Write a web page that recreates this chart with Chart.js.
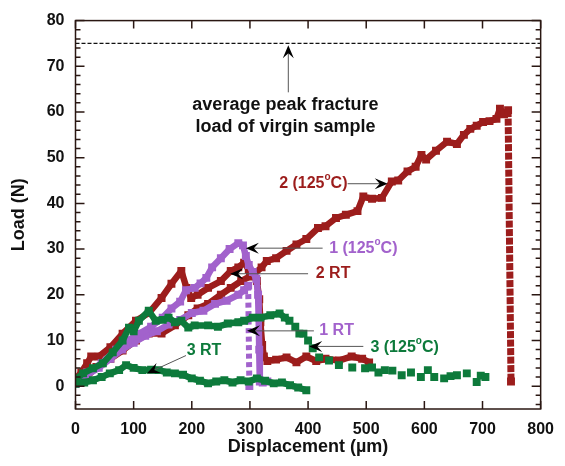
<!DOCTYPE html>
<html lang="en">
<head>
  <meta charset="UTF-8" />
  <title>Load vs Displacement</title>
  <script src="https://cdn.jsdelivr.net/npm/chart.js"></script>
  <style>
    body { margin: 0; background: #fff; }
    canvas { display: block; }
  </style>
</head>
<body>
<canvas id="loadChart" width="565" height="466"></canvas>
<script>
// ---- data (displacement in um, load in N) ----
const hot2X = [0, 15, 36, 60, 81, 104, 126, 148, 171, 194, 210, 228, 250, 267, 285, 300, 307, 320, 329, 345, 363, 380, 397, 417, 430, 448, 465, 485, 495, 510, 527, 544, 555, 571, 585, 595, 603, 620, 639, 656, 668, 679, 690, 701, 712, 724, 730, 737, 744, 749];
const hot2Y = [0.5, 1.5, 4.2, 6, 7.8, 10, 11.5, 11.5, 13.3, 15.5, 17, 18, 20, 21.5, 23, 24, 24.5, 26, 27.4, 28, 29.6, 31, 32.2, 34.6, 35, 36.8, 37.5, 38.3, 41.5, 41, 41.2, 44.8, 45, 47, 48, 50.6, 49.6, 51.5, 53.5, 53, 55, 56.3, 57, 57.8, 58, 58.5, 60.7, 59.5, 60.4, 1];

const rt2X = [0, 10, 20, 27, 40, 60, 81, 104, 126, 148, 165, 182, 191, 199, 210, 228, 250, 267, 280, 290, 298, 305, 312, 316, 318, 321, 324, 330, 345, 363, 380, 397, 414, 430, 453, 475, 493, 505];
const rt2Y = [1.5, 3, 5, 6.5, 6.5, 8.5, 11.5, 14.3, 16, 19.3, 22.4, 25.2, 21.5, 19.3, 20, 21.5, 23, 25.2, 26, 27, 25.5, 24.5, 23, 19, 14, 9, 6.5, 5.5, 5.8, 6.3, 5.2, 6.5, 5.5, 6, 5.6, 6.5, 6, 5.2];

const hot1X = [0, 20, 45, 70, 90, 110, 130, 150, 165, 180, 190, 205, 215, 225, 235, 250, 265, 280, 288, 293, 298, 305, 311, 314, 315, 316, 317, 322, 330];
const hot1Y = [1, 3, 5, 8, 10, 11.5, 13, 15, 17, 18.5, 21, 21.5, 22.5, 23.7, 26, 28, 30, 31.3, 30.8, 28.5, 26.5, 25, 23.5, 20, 15, 8, 1, 0.8, 1];

const rt1X = [0, 20, 40, 60, 80, 100, 120, 140, 160, 180, 200, 220, 240, 260, 280, 290, 297, 299];
const rt1Y = [0.5, 2.5, 4, 6, 8, 9.5, 11, 12, 13.5, 14.5, 16, 16.5, 18, 18.7, 20, 21, 22, 0];

const hot3X = [0, 13, 30, 47, 64, 81, 92, 100, 109, 126, 138, 150, 160, 171, 182, 194, 205, 228, 245, 262, 280, 290, 305, 318, 335, 351, 360, 368, 378, 385, 392, 400, 408, 419, 436, 453, 476, 498, 510, 521, 532, 545, 561, 577, 594, 606, 617, 634, 645, 656, 673, 690, 697, 705];
const hot3Y = [1.5, 2.8, 3.9, 5, 7.4, 10, 12.8, 12, 14.3, 16.5, 14.3, 14.5, 15, 14, 14.3, 12.8, 13.3, 13.3, 13, 13.7, 14, 14.3, 15, 15, 15.5, 15.9, 15, 14.3, 13, 11.5, 11.5, 10, 8.3, 6.3, 5.6, 4.6, 4.1, 3.9, 4.1, 3, 3.5, 3.4, 2.4, 3, 2, 3.5, 2, 1.7, 2.2, 2.4, 2.8, 0.9, 2.3, 2];

const rt3X = [0, 15, 30, 45, 59, 75, 87, 100, 115, 130, 143, 157, 171, 185, 200, 214, 228, 242, 256, 270, 284, 298, 312, 326, 341, 355, 369, 383, 397];
const rt3Y = [0.5, 0.8, 1.3, 2, 2.8, 3.5, 4.6, 4, 3.5, 3.6, 3.5, 3, 2.8, 2.5, 1.7, 1.2, 0.6, 1, 1.3, 0.8, 1.3, 1, 1.7, 1.2, 0.6, 0.8, 0.2, -0.3, -0.9];

const xTicks = [0, 100, 200, 300, 400, 500, 600, 700, 800];
const yTicks = [0, 10, 20, 30, 40, 50, 60, 70, 80];
const virginPeak = 75;

const RED = '#9c1d1c', PURPLE = '#a262cc', GREEN = '#0d7a3b';
const FONT = "'Liberation Sans', Arial, sans-serif";

function pts(xs, ys) { return xs.map((x, i) => ({ x: x, y: ys[i] })); }

function series(xs, ys, color, segment) {
  return {
    data: pts(xs, ys), showLine: true, borderColor: color, backgroundColor: color,
    borderWidth: 6.5, pointStyle: 'rect', pointRadius: 5.6, pointBorderWidth: 0,
    borderCapStyle: 'butt', borderJoinStyle: 'bevel', tension: 0, segment: segment || {}
  };
}

// text with a superscript "o" for the degree sign
function labelText(ctx, before, sup, after, cx, cy, color) {
  ctx.save();
  ctx.fillStyle = color;
  ctx.textBaseline = 'middle';
  ctx.textAlign = 'left';
  const big = 'bold 16px ' + FONT, small = 'bold 10px ' + FONT;
  ctx.font = big; const w1 = ctx.measureText(before).width; const w3 = ctx.measureText(after).width;
  ctx.font = small; const w2 = sup ? ctx.measureText(sup).width : 0;
  let x = cx - (w1 + w2 + w3) / 2;
  ctx.font = big; ctx.fillText(before, x, cy); x += w1;
  if (sup) { ctx.font = small; ctx.fillText(sup, x, cy - 6); x += w2; }
  ctx.font = big; ctx.fillText(after, x, cy);
  ctx.restore();
}

function arrow(ctx, x1, y1, x2, y2) {
  const a = Math.atan2(y2 - y1, x2 - x1);
  ctx.save();
  ctx.strokeStyle = '#555'; ctx.lineWidth = 1;
  ctx.beginPath(); ctx.moveTo(x1, y1); ctx.lineTo(x2 - 6 * Math.cos(a), y2 - 6 * Math.sin(a)); ctx.stroke();
  ctx.translate(x2, y2); ctx.rotate(a);
  ctx.fillStyle = '#000';
  ctx.beginPath(); ctx.moveTo(0, 0); ctx.lineTo(-13, -5.5); ctx.lineTo(-8, 0); ctx.lineTo(-13, 5.5); ctx.closePath(); ctx.fill();
  ctx.restore();
}

const decorations = {
  id: 'decorations',
  beforeDatasetsDraw(chart) {
    const { ctx, chartArea: a, scales: { y } } = chart;
    const py = y.getPixelForValue(virginPeak);
    ctx.save();
    ctx.strokeStyle = '#111'; ctx.lineWidth = 1.3; ctx.setLineDash([4, 2]);
    ctx.beginPath(); ctx.moveTo(a.left, py); ctx.lineTo(a.right, py); ctx.stroke();
    ctx.restore();
  },
  afterDatasetsDraw(chart) {
    const { ctx, chartArea: a, scales: { x, y } } = chart;
    const P = (xv, yv) => [x.getPixelForValue(xv), y.getPixelForValue(yv)];
    ctx.save();
    // frame and inward ticks
    ctx.strokeStyle = '#2a1712'; ctx.lineWidth = 1.5;
    ctx.strokeRect(a.left, a.top, a.right - a.left, a.bottom - a.top);
    ctx.beginPath();
    xTicks.forEach(v => {
      const px = x.getPixelForValue(v);
      ctx.moveTo(px, a.bottom); ctx.lineTo(px, a.bottom - 8);
      ctx.moveTo(px, a.top); ctx.lineTo(px, a.top + 8);
    });
    for (let v = -4; v <= 80; v += 2) {
      const py = y.getPixelForValue(v);
      const len = v % 10 === 0 ? 9 : 5;
      ctx.moveTo(a.left, py); ctx.lineTo(a.left + len, py);
      ctx.moveTo(a.right, py); ctx.lineTo(a.right - len, py);
    }
    ctx.stroke();

    // axis titles
    ctx.fillStyle = '#111';
    ctx.font = 'bold 18px ' + FONT;
    ctx.textAlign = 'center'; ctx.textBaseline = 'middle';
    ctx.fillText('Displacement (\u00b5m)', (a.left + a.right) / 2, 447);
    ctx.save();
    ctx.translate(19, (a.top + a.bottom) / 2);
    ctx.rotate(-Math.PI / 2);
    ctx.fillText('Load (N)', 0, 0);
    ctx.restore();

    // peak annotation
    let p = P(366, 64.3), q = P(366, 74.6);
    arrow(ctx, p[0], p[1], q[0], q[1]);
    ctx.fillStyle = '#111';
    ctx.font = 'bold 18px ' + FONT;
    p = P(361, 61.5); ctx.fillText('average peak fracture', p[0], p[1]);
    p = P(361, 56.7); ctx.fillText('load of virgin sample', p[0], p[1]);

    // curve labels
    p = P(409, 44.3); labelText(ctx, '2 (125', 'o', 'C)', p[0], p[1], RED);
    p = P(468, 44.3); q = P(537, 44.3); arrow(ctx, p[0], p[1], q[0], q[1]);

    p = P(495, 30.2); labelText(ctx, '1 (125', 'o', 'C)', p[0], p[1], PURPLE);
    p = P(425, 30.2); q = P(293, 30.2); arrow(ctx, p[0], p[1], q[0], q[1]);

    p = P(443, 24.6); labelText(ctx, '2 RT', '', '', p[0], p[1], RED);
    p = P(400, 24.6); q = P(266, 24.6); arrow(ctx, p[0], p[1], q[0], q[1]);

    p = P(449, 12.2); labelText(ctx, '1 RT', '', '', p[0], p[1], PURPLE);
    p = P(410, 12.1); q = P(295, 12.1); arrow(ctx, p[0], p[1], q[0], q[1]);

    p = P(566, 8.5); labelText(ctx, '3 (125', 'o', 'C)', p[0], p[1], GREEN);
    p = P(495, 8.7); q = P(402, 8.7); arrow(ctx, p[0], p[1], q[0], q[1]);

    p = P(221, 7.8); labelText(ctx, '3 RT', '', '', p[0], p[1], GREEN);
    p = P(190, 6.7); q = P(123, 2.8); arrow(ctx, p[0], p[1], q[0], q[1]);
    ctx.restore();
  }
};

const lastSeg = (xs, style) => (c => c.p1DataIndex === xs.length - 1 ? style : undefined);

new Chart(document.getElementById('loadChart').getContext('2d'), {
  type: 'scatter',
  data: {
    datasets: [
      series(rt3X, rt3Y, GREEN),
      series(hot3X, hot3Y, GREEN, { borderColor: c => c.p0.parsed.x >= 368 ? 'rgba(0,0,0,0)' : undefined }),
      series(hot1X, hot1Y, PURPLE),
      series(rt1X, rt1Y, PURPLE, { borderDash: lastSeg(rt1X, [5, 3.5]), borderWidth: lastSeg(rt1X, 6) }),
      series(rt2X, rt2Y, RED),
      series(hot2X, hot2Y, RED, { borderDash: lastSeg(hot2X, [7, 1.5]), borderWidth: lastSeg(hot2X, 7) })
    ]
  },
  options: {
    responsive: false,
    animation: false,
    layout: { padding: { left: 0, right: 16.5, top: 18, bottom: 0 } },
    plugins: { legend: { display: false }, tooltip: { enabled: false } },
    scales: {
      x: {
        type: 'linear', min: 0, max: 800,
        ticks: { stepSize: 100, maxRotation: 0, padding: 11, color: '#111', font: { family: FONT, size: 16, weight: 'bold' } },
        grid: { display: false, drawTicks: false }, border: { display: false },
        afterBuildTicks: s => { s.ticks = xTicks.map(v => ({ value: v })); },
        afterFit: s => { s.height = 57; }
      },
      y: {
        type: 'linear', min: -5, max: 80,
        ticks: { padding: 11, color: '#111', font: { family: FONT, size: 16, weight: 'bold' } },
        grid: { display: false, drawTicks: false }, border: { display: false },
        afterBuildTicks: s => { s.ticks = yTicks.map(v => ({ value: v })); },
        afterFit: s => { s.width = 75.5; }
      }
    }
  },
  plugins: [decorations]
});
</script>
</body>
</html>
